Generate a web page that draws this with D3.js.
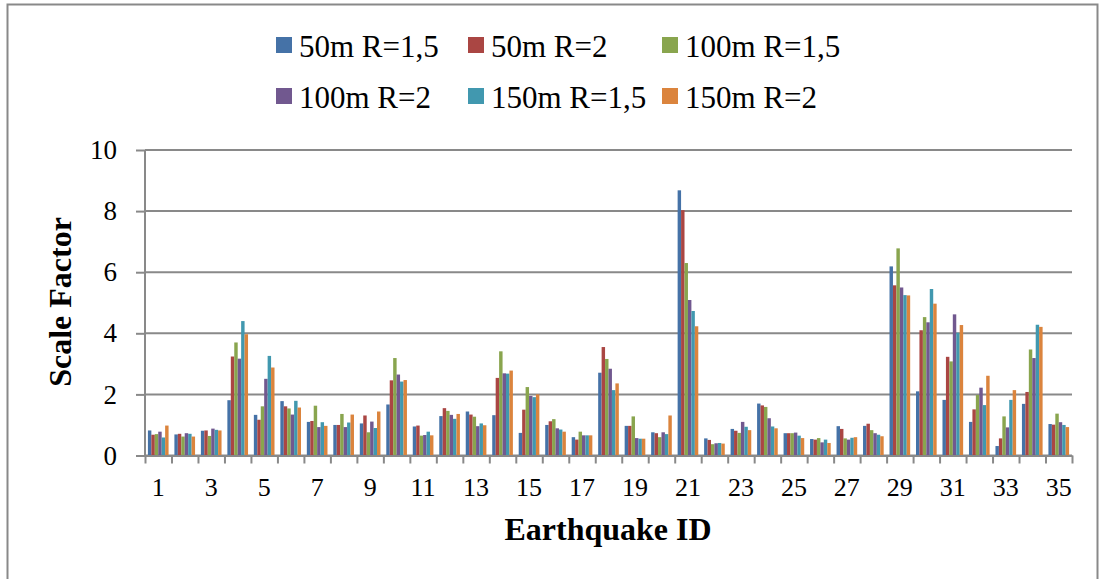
<!DOCTYPE html>
<html>
<head>
<meta charset="utf-8">
<script src="https://d3js.org/d3.v7.min.js"></script>
<style>
  body { margin: 0; background: #fff; }
  svg text { font-family: 'Liberation Serif', 'Times New Roman', serif; fill: #000; }
</style>
</head>
<body>
<div id="chart"></div>
<script>
'use strict';

// data
var earthquakeIds = d3.range( 1, 36 );
var seriesNames = [ '50m R=1,5', '50m R=2', '100m R=1,5', '100m R=2', '150m R=1,5', '150m R=2' ];
var seriesColors = [ '#4572A7', '#AA4643', '#89A54E', '#71588F', '#4198AF', '#DB843D' ];
var yTicks = [ 0, 2, 4, 6, 8, 10 ];

var s50r15 = [ 0.82, 0.69, 0.81, 1.81, 1.33, 1.78, 1.10, 1.00, 1.05, 1.67, 0.95, 1.29, 1.44, 1.32, 0.74, 1.00, 0.60, 2.71, 0.97, 0.76, 8.68, 0.56, 0.87, 1.70, 0.73, 0.54, 0.96, 0.97, 6.19, 2.10, 1.82, 1.10, 0.31, 1.69, 1.03 ];
var s50r2 = [ 0.68, 0.71, 0.82, 3.24, 1.17, 1.61, 1.13, 1.00, 1.31, 2.46, 0.98, 1.55, 1.34, 2.54, 1.50, 1.12, 0.52, 3.55, 0.97, 0.73, 8.03, 0.51, 0.81, 1.64, 0.73, 0.52, 0.87, 1.04, 5.57, 4.10, 3.23, 1.51, 0.56, 2.08, 1.01 ];
var s100r15 = [ 0.70, 0.62, 0.64, 3.70, 1.61, 1.54, 1.63, 1.36, 0.76, 3.19, 0.65, 1.46, 1.27, 3.41, 2.24, 1.19, 0.78, 3.16, 1.28, 0.60, 6.30, 0.37, 0.74, 1.59, 0.73, 0.57, 0.56, 0.83, 6.78, 4.53, 3.08, 1.98, 1.28, 3.47, 1.37 ];
var s100r2 = [ 0.78, 0.73, 0.88, 3.17, 2.51, 1.34, 0.93, 0.93, 1.11, 2.65, 0.67, 1.33, 0.96, 2.69, 1.95, 0.89, 0.66, 2.84, 0.57, 0.76, 5.09, 0.40, 1.10, 1.22, 0.75, 0.43, 0.52, 0.73, 5.50, 4.36, 4.62, 2.22, 0.92, 3.19, 1.09 ];
var s150r15 = [ 0.59, 0.71, 0.84, 4.40, 3.26, 1.79, 1.09, 1.08, 0.90, 2.42, 0.78, 1.20, 1.05, 2.68, 1.91, 0.85, 0.66, 2.14, 0.55, 0.70, 4.73, 0.41, 0.94, 0.95, 0.65, 0.52, 0.58, 0.68, 5.25, 5.45, 4.02, 1.65, 1.82, 4.28, 1.00 ];
var s150r2 = [ 0.98, 0.62, 0.82, 3.97, 2.88, 1.57, 0.97, 1.34, 1.44, 2.47, 0.66, 1.36, 0.99, 2.78, 2.00, 0.78, 0.66, 2.36, 0.55, 1.31, 4.23, 0.39, 0.83, 0.89, 0.57, 0.41, 0.60, 0.63, 5.24, 4.97, 4.27, 2.61, 2.14, 4.21, 0.93 ];

var seriesValues = [ s50r15, s50r2, s100r15, s100r2, s150r15, s150r2 ];

var width = 1100,
    height = 579,
    gridColor = '#898989';

var plot = { left: 145, right: 1072, top: 150, bottom: 455.5 };

var svg = d3.select( '#chart' )
  .append( 'svg' )
    .attr( 'width', width )
    .attr( 'height', height );

// outer frame
svg.append( 'rect' )
    .attr( 'x', 7.5 )
    .attr( 'y', 4.5 )
    .attr( 'width', 1090 )
    .attr( 'height', 600 )
    .attr( 'fill', 'none' )
    .attr( 'stroke', gridColor )
    .attr( 'stroke-width', 2 );

var x0 = d3.scaleBand()
    .domain( earthquakeIds )
    .range( [ plot.left, plot.right ] )
    .paddingInner( 0.22 )
    .paddingOuter( 0.11 );

var x1 = d3.scaleBand()
    .domain( d3.range( seriesNames.length ) )
    .range( [ 0, x0.bandwidth() ] );

var xEdge = d3.scaleLinear()
    .domain( [ 0, earthquakeIds.length ] )
    .range( [ plot.left, plot.right ] );

var y = d3.scaleLinear()
    .domain( [ 0, 10 ] )
    .range( [ plot.bottom, plot.top ] );

// gridlines + y axis
var yAxis = svg.append( 'g' )
    .attr( 'transform', 'translate(' + plot.left + ',0)' )
    .call( d3.axisLeft( y )
      .tickValues( yTicks )
      .tickSize( 9 )
      .tickPadding( 19 ) );
yAxis.select( '.domain' ).remove();
yAxis.selectAll( 'line' ).attr( 'stroke', gridColor ).attr( 'stroke-width', 2 );
yAxis.selectAll( 'text' ).style( 'font-size', '27px' );

svg.append( 'g' )
  .selectAll( 'line' )
    .data( yTicks )
  .enter().append( 'line' )
    .attr( 'x1', plot.left )
    .attr( 'x2', plot.right )
    .attr( 'y1', function( d ) { return y( d ); } )
    .attr( 'y2', function( d ) { return y( d ); } )
    .attr( 'stroke', gridColor )
    .attr( 'stroke-width', 2 );

// bars
var groups = svg.append( 'g' )
  .selectAll( 'g' )
    .data( earthquakeIds )
  .enter().append( 'g' )
    .attr( 'transform', function( d ) { return 'translate(' + x0( d ) + ',0)'; } );

groups.selectAll( 'rect' )
    .data( function( d, i ) {
      return seriesValues.map( function( vals, s ) { return { s: s, v: vals[ i ] }; } );
    } )
  .enter().append( 'rect' )
    .attr( 'x', function( d ) { return x1( d.s ); } )
    .attr( 'width', x1.bandwidth() )
    .attr( 'y', function( d ) { return y( d.v ); } )
    .attr( 'height', function( d ) { return y( 0 ) - y( d.v ); } )
    .attr( 'fill', function( d ) { return seriesColors[ d.s ]; } );

// y axis line
svg.append( 'line' )
    .attr( 'x1', plot.left )
    .attr( 'x2', plot.left )
    .attr( 'y1', plot.top )
    .attr( 'y2', plot.bottom )
    .attr( 'stroke', gridColor )
    .attr( 'stroke-width', 2 );

// x axis: ticks on category edges, labels on odd ids
var xTicks = svg.append( 'g' )
    .attr( 'transform', 'translate(0,' + plot.bottom + ')' )
    .call( d3.axisBottom( xEdge )
      .tickValues( d3.range( earthquakeIds.length + 1 ) )
      .tickSize( 8 )
      .tickSizeOuter( 0 )
      .tickFormat( '' ) );
xTicks.selectAll( 'line, path' ).attr( 'stroke', gridColor ).attr( 'stroke-width', 2 );

var xLabels = svg.append( 'g' )
    .attr( 'transform', 'translate(0,' + plot.bottom + ')' )
    .call( d3.axisBottom( x0 )
      .tickValues( earthquakeIds.filter( function( d ) { return d % 2 === 1; } ) )
      .tickSize( 0 )
      .tickPadding( 22 ) );
xLabels.select( '.domain' ).remove();
xLabels.selectAll( 'text' ).style( 'font-size', '26px' );

// axis titles
svg.append( 'text' )
    .attr( 'x', 608 )
    .attr( 'y', 540 )
    .attr( 'text-anchor', 'middle' )
    .style( 'font-size', '32px' )
    .style( 'font-weight', 'bold' )
    .text( 'Earthquake ID' );

svg.append( 'text' )
    .attr( 'transform', 'translate(71,302) rotate(-90)' )
    .attr( 'text-anchor', 'middle' )
    .style( 'font-size', '32px' )
    .style( 'font-weight', 'bold' )
    .text( 'Scale Factor' );

// legend, 3 columns x 2 rows
var legendCols = [ 276, 468, 662 ],
    legendRows = [ 57, 108 ];

var legend = svg.append( 'g' )
  .selectAll( 'g' )
    .data( seriesNames )
  .enter().append( 'g' )
    .attr( 'transform', function( d, i ) {
      return 'translate(' + legendCols[ i % 3 ] + ',' + legendRows[ Math.floor( i / 3 ) ] + ')';
    } );

legend.append( 'rect' )
    .attr( 'x', 0 )
    .attr( 'y', -20 )
    .attr( 'width', 16 )
    .attr( 'height', 16 )
    .attr( 'fill', function( d, i ) { return seriesColors[ i ]; } );

legend.append( 'text' )
    .attr( 'x', 23 )
    .attr( 'y', 0 )
    .style( 'font-size', '31px' )
    .text( function( d ) { return d; } );
</script>
</body>
</html>
